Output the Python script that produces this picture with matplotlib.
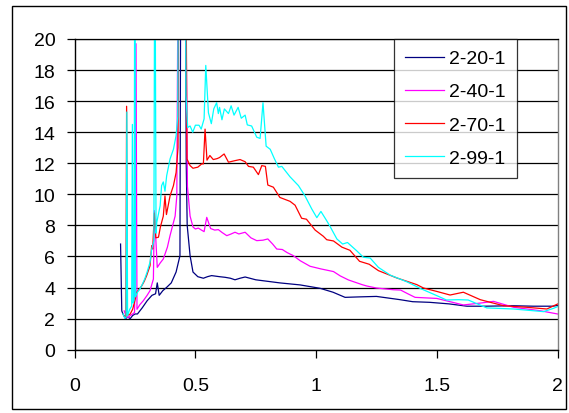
import numpy as np
import matplotlib
matplotlib.use("Agg")
import matplotlib.pyplot as plt
from matplotlib.patches import Rectangle

plt.rcParams['font.family'] = ['Liberation Sans', 'DejaVu Sans']

# 2-20-1
x20 = [0.19, 0.195, 0.20, 0.21, 0.22, 0.23, 0.24, 0.25, 0.26, 0.27, 0.28, 0.30, 0.32,
       0.335, 0.342, 0.35, 0.365, 0.38, 0.40, 0.42, 0.436, 0.44, 0.455, 0.462, 0.466,
       0.478, 0.49, 0.51, 0.533, 0.55, 0.567, 0.60, 0.623, 0.645, 0.664, 0.685, 0.706,
       0.75, 0.80, 0.85, 0.934, 1.017, 1.07, 1.12, 1.18, 1.25, 1.348, 1.40, 1.47, 1.55,
       1.625, 1.70, 1.818, 1.90, 1.98, 2.0]
y20 = [6.8, 2.5, 2.3, 2.0, 2.1, 2.0, 2.2, 2.3, 2.3, 2.5, 2.7, 3.15, 3.5,
       3.6, 4.3, 3.5, 3.8, 4.0, 4.3, 5.0, 6.05, 30, 40, 12, 8.0,
       6.05, 5.0, 4.7, 4.6, 4.7, 4.77, 4.7, 4.66, 4.6, 4.5, 4.6, 4.68,
       4.5, 4.4, 4.3, 4.17, 3.95, 3.7, 3.37, 3.4, 3.43, 3.22, 3.09, 3.05, 2.95,
       2.8, 2.8, 2.83, 2.8, 2.8, 2.85]

# 2-40-1
x40 = [0.205, 0.215, 0.222, 0.23, 0.24, 0.248, 0.254, 0.258, 0.27, 0.284, 0.30, 0.312,
       0.326, 0.33, 0.342, 0.355, 0.367, 0.384, 0.395, 0.416, 0.423, 0.43, 0.45, 0.462,
       0.467, 0.478, 0.49, 0.50, 0.512, 0.525, 0.536, 0.547, 0.563, 0.58, 0.595, 0.61,
       0.63, 0.648, 0.664, 0.68, 0.706, 0.73, 0.754, 0.78, 0.80, 0.82, 0.837, 0.86,
       0.88, 0.906, 0.934, 0.975, 1.02, 1.072, 1.10, 1.134, 1.19, 1.21, 1.25, 1.32,
       1.35, 1.38, 1.41, 1.5, 1.61, 1.68, 1.735, 1.818, 1.928, 2.0]
y40 = [2.5, 2.1, 2.08, 2.2, 2.3, 2.4, 19.7, 2.6, 2.9, 3.15, 3.5, 3.8,
       4.55, 8.95, 5.3, 5.6, 5.84, 6.6, 7.35, 8.6, 9.9, 30, 40, 20,
       10.5, 8.6, 7.9, 7.77, 7.83, 7.7, 7.6, 8.52, 7.8, 7.7, 7.73, 7.55,
       7.34, 7.45, 7.56, 7.45, 7.56, 7.2, 7.02, 7.05, 7.13, 6.8, 6.48, 6.45,
       6.25, 6.05, 5.73, 5.37, 5.2, 5.03, 4.75, 4.49, 4.19, 4.1, 3.97, 3.86,
       3.84, 3.6, 3.37, 3.3, 2.88, 3.0, 3.11, 2.73, 2.51, 2.3]

# 2-70-1
x70 = [0.205, 0.212, 0.215, 0.218, 0.23, 0.24, 0.25, 0.257, 0.268, 0.278, 0.288, 0.298,
       0.312, 0.319, 0.323, 0.33, 0.336, 0.347, 0.355, 0.367, 0.374, 0.38, 0.395, 0.409,
       0.42, 0.428, 0.432, 0.45, 0.462, 0.465, 0.478, 0.49, 0.51, 0.526, 0.533, 0.54,
       0.548, 0.56, 0.574, 0.59, 0.60, 0.619, 0.637, 0.664, 0.685, 0.706, 0.72, 0.74,
       0.761, 0.775, 0.79, 0.80, 0.823, 0.85, 0.892, 0.913, 0.94, 0.96, 0.996, 1.03,
       1.044, 1.072, 1.107, 1.14, 1.18, 1.22, 1.258, 1.334, 1.417, 1.445, 1.50, 1.555,
       1.61, 1.68, 1.776, 1.873, 1.956, 2.0]
y70 = [2.2, 2.1, 15.67, 2.2, 2.3, 2.6, 3.2, 3.7, 3.9, 4.12, 4.4, 4.77,
       5.4, 6.7, 6.48, 8.8, 7.2, 7.24, 7.9, 8.6, 9.9, 8.7, 9.9, 10.56,
       11.4, 13, 30, 40, 22, 12.28, 11.85, 11.68, 11.75, 11.96, 11.96, 14.2,
       12.2, 12.5, 12.24, 12.3, 12.37, 12.6, 12.07, 12.17, 12.24, 12.1, 11.8, 11.75,
       11.27, 11.85, 11.8, 10.6, 10.46, 9.8, 9.55, 9.3, 8.46, 8.4, 7.7, 7.3,
       7.08, 7.0, 6.6, 6.4, 5.69, 5.5, 5.09, 4.62, 4.19, 3.97, 3.75, 3.52,
       3.7, 3.22, 2.83, 2.73, 2.62, 2.94]

# 2-99-1
x99 = [0.20, 0.208, 0.213, 0.216, 0.219, 0.228, 0.236, 0.239, 0.242, 0.246, 0.249, 0.252,
       0.26, 0.27, 0.28, 0.29, 0.30, 0.312, 0.319, 0.328, 0.332, 0.337, 0.34, 0.354,
       0.36, 0.367, 0.374, 0.381, 0.395, 0.409, 0.42, 0.427, 0.43, 0.45, 0.459, 0.461,
       0.468, 0.478, 0.489, 0.50, 0.515, 0.524, 0.536, 0.543, 0.554, 0.566, 0.576, 0.588,
       0.595, 0.60, 0.61, 0.62, 0.637, 0.648, 0.66, 0.677, 0.69, 0.706, 0.715, 0.733,
       0.754, 0.768, 0.78, 0.793, 0.81, 0.827, 0.844, 0.858, 0.892, 0.927, 0.954, 0.982,
       1.003, 1.02, 1.044, 1.058, 1.086, 1.11, 1.13, 1.168, 1.196, 1.224, 1.258, 1.307,
       1.376, 1.438, 1.5, 1.54, 1.59, 1.63, 1.707, 1.818, 1.942, 1.983, 2.0]
y99 = [2.3, 2.02, 2.1, 15.3, 2.2, 2.6, 2.8, 14.5, 3.0, 3.2, 30, 3.4,
       3.7, 3.9, 4.2, 4.55, 5.0, 5.63, 6.48, 7.0, 30, 7.5, 8.2, 9.27,
       10.56, 10.8, 10.2, 11.2, 12.28, 12.9, 13.78, 15, 30, 40, 25, 16.36,
       14.3, 14.4, 14.0, 14.45, 14.45, 14.2, 14.86, 18.3, 15.25, 14.55, 15.5, 15.9,
       15.2, 15.6, 14.8, 15.5, 15.2, 15.7, 15.1, 15.6, 14.9, 15.1, 14.47, 14.4,
       13.68, 13.6, 15.9, 13.1, 12.9, 12.3, 11.75, 11.8, 11.13, 10.56, 9.9, 9.06,
       8.5, 8.9, 8.3, 7.93, 7.13, 6.8, 6.9, 6.37, 5.95, 5.9, 5.3, 4.8,
       4.37, 3.9, 3.48, 3.2, 3.22, 3.2, 2.69, 2.62, 2.45, 2.66, 2.77]

labels = ['2-20-1', '2-40-1', '2-70-1', '2-99-1']
colors = ['#000080', '#FF00FF', '#FF0000', '#00FFFF']

fig = plt.figure(figsize=(5.69, 4.14), dpi=100)
ax = fig.add_axes([74.7/569, 1-350.7/414, (557.5-74.7)/569, (350.7-40)/414])

for xs, ys, lab, c in zip([x20, x40, x70, x99], [y20, y40, y70, y99], labels, colors):
    ax.plot(xs, ys, color=c, lw=0.9, label=lab)

ax.set_xlim(0, 2)
ax.set_ylim(0, 20)
ax.set_xticks([0, 0.5, 1, 1.5, 2])
ax.set_xticklabels(['0', '0.5', '1', '1.5', '2'])
ax.set_yticks(range(0, 21, 2))
ax.yaxis.grid(True, color='black', lw=0.9)
ax.set_axisbelow(True)
ax.tick_params(direction='out', length=6, width=0.9, labelsize=14, colors='black')
ax.tick_params(axis='x', pad=14)
ax.tick_params(axis='y', pad=8)
for s in ['left', 'bottom']:
    ax.spines[s].set_color('black')
    ax.spines[s].set_linewidth(1.0)
ax.spines['top'].set_color('black')
ax.spines['top'].set_linewidth(0.9)
ax.spines['right'].set_color('#808080')
ax.spines['right'].set_linewidth(1.0)

leg = ax.legend(loc='upper left', bbox_to_anchor=((394-74.7)/(557.5-74.7), 1.0),
                fontsize=14, frameon=True, fancybox=False, handlelength=2.0,
                handletextpad=0.3, labelspacing=0.8, borderpad=0.55, borderaxespad=0)
leg.get_frame().set_edgecolor('black')
leg.get_frame().set_linewidth(0.9)
for h in leg.get_lines():
    h.set_linewidth(0.9)

fig.patches.append(Rectangle((12/569, 1-410/414), (566-12)/569, (410-7)/414,
                             transform=fig.transFigure, fill=False,
                             edgecolor='black', lw=1.0))

fig.savefig('out.png', dpi=100)
